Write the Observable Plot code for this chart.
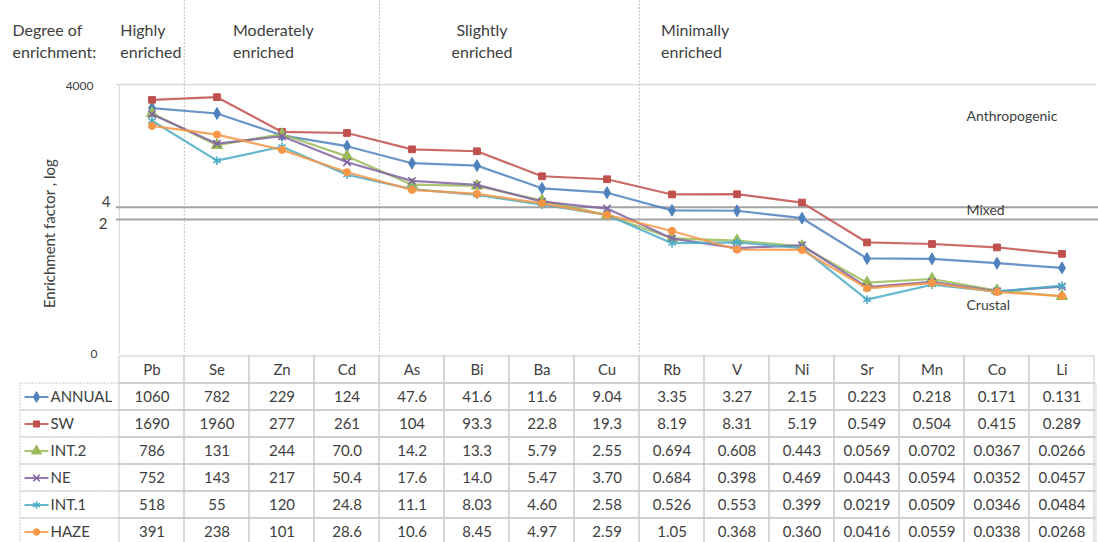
<!DOCTYPE html>
<html><head><meta charset="utf-8">
<script src="https://cdn.jsdelivr.net/npm/d3@7"></script>
<script src="https://cdn.jsdelivr.net/npm/@observablehq/plot@0.6"></script>
<style>
html,body{margin:0;padding:0;background:#fff;}
#chart{width:1098px;height:542px;overflow:hidden;font-family:Lato,sans-serif;}
#chart svg{display:block;}
</style></head><body><div id="chart"></div>
<script>
// ---------- data ----------
const elements = ["Pb","Se","Zn","Cd","As","Bi","Ba","Cu","Rb","V","Ni","Sr","Mn","Co","Li"];
const seriesNames = ["ANNUAL","SW","INT.2","NE","INT.1","HAZE"];
const annual = ["1060","782","229","124","47.6","41.6","11.6","9.04","3.35","3.27","2.15","0.223","0.218","0.171","0.131"];
const sw     = ["1690","1960","277","261","104","93.3","22.8","19.3","8.19","8.31","5.19","0.549","0.504","0.415","0.289"];
const int2   = ["786","131","244","70.0","14.2","13.3","5.79","2.55","0.694","0.608","0.443","0.0569","0.0702","0.0367","0.0266"];
const ne     = ["752","143","217","50.4","17.6","14.0","5.47","3.70","0.684","0.398","0.469","0.0443","0.0594","0.0352","0.0457"];
const int1   = ["518","55","120","24.8","11.1","8.03","4.60","2.58","0.526","0.553","0.399","0.0219","0.0509","0.0346","0.0484"];
const haze   = ["391","238","101","28.6","10.6","8.45","4.97","2.59","1.05","0.368","0.360","0.0416","0.0559","0.0338","0.0268"];
const seriesValues = [annual, sw, int2, ne, int1, haze];

const yTickValues = [4000, 4, 2, 0.001];
const yTickLabels = ["4000", "4", "2", "0"];
const yLabel = "Enrichment factor , log";
const yLabelAt = 0.9;
const mixedBounds = [4, 2];
const zoneLabels = ["Anthropogenic", "Mixed", "Crustal"];
const zoneLabelValues = [660, 3.3, 0.0154];
const degreeTitle = "Degree of\nenrichment:";
const degreeLabels = ["Highly\nenriched", "Moderately\nenriched", "Slightly\nenriched", "Minimally\nenriched"];
const degreeStart = ["Pb", "Se", "Bi", "Rb"];
const degreeBreaks = ["Se", "As", "Rb"];

// ---------- styles ----------
const seriesColors = ["#4F81BD","#C0504D","#9BBB59","#8064A2","#4BACC6","#F79646"];
const seriesSymbols = ["diamond","square","triangle","times","asterisk","circle"];
const symbolFilled = [true, true, true, false, false, true];
const symbolR = [3.6, 3.8, 4.2, 3.4, 4, 3.6];
const textColor = "#404040";
const W = 1098, chartH = 355, mLeft = 116, mRight = 2, mTop = 84;
const bw = (W - mRight - mLeft) / elements.length;
const degreeDx = [-bw/2 + 1, 16, 5, -11];
const degreeAnchor = ["start", "start", "middle", "start"];
const yTickDx = [-23, -6, -9, -19];
const yTickDy = [2, -5, 5, 0];
const yTickSize = [12, 15, 15, 12];

const long = seriesNames.flatMap((s, i) => elements.map((e, j) => ({
  series: s, element: e, text: seriesValues[i][j], value: +seriesValues[i][j]
})));

const seriesMarks = seriesNames.flatMap((s, i) => {
  const d = long.filter(r => r.series === s);
  return [
    Plot.line(d, {x: "element", y: "value", stroke: seriesColors[i], strokeWidth: 2.2, strokeOpacity: 0.85}),
    Plot.dot(d, {x: "element", y: "value", symbol: seriesSymbols[i], r: symbolR[i],
      fill: symbolFilled[i] ? seriesColors[i] : "none", stroke: seriesColors[i],
      strokeWidth: symbolFilled[i] ? 1 : 1.6})
  ];
});

const chart = Plot.plot({
  width: W, height: chartH,
  marginLeft: mLeft, marginRight: mRight, marginTop: mTop, marginBottom: 1,
  style: {fontFamily: "Lato, sans-serif", fontSize: "15px", color: textColor, background: "white", overflow: "visible"},
  x: {type: "band", domain: elements, padding: 0, axis: null},
  y: {type: "log", domain: [0.001, 4000], axis: null},
  marks: [
    Plot.ruleY([yTickValues[0]], {stroke: "#dadada", strokeWidth: 1.6}),
    Plot.ruleX([elements[0]], {dx: -bw/2, stroke: "#d4d4d4"}),
    Plot.ruleX(degreeBreaks, {dx: -bw/2, insetTop: -mTop, stroke: "#bdbdbd", strokeDasharray: "2,1.5"}),
    Plot.ruleY(mixedBounds, {stroke: "#a3a3a3", strokeWidth: 2, insetRight: -2}),
    ...seriesMarks,
    ...yTickValues.map((v, i) => Plot.text([yTickLabels[i]], {
      y: [v], text: d => d, frameAnchor: "left", dx: yTickDx[i], dy: yTickDy[i],
      textAnchor: "end", fontSize: yTickSize[i]})),
    Plot.text([yLabel], {y: [yLabelAt], text: d => d, frameAnchor: "left", dx: -66,
      rotate: -90, textAnchor: "middle", fontSize: 15}),
    Plot.text([degreeTitle], {frameAnchor: "top-left", dx: 12 - mLeft, dy: -64,
      lineAnchor: "top", lineHeight: 1.375, textAnchor: "start", fontSize: 16}),
    ...degreeLabels.map((t, i) => Plot.text([t], {
      x: [degreeStart[i]], text: d => d, frameAnchor: "top", dx: degreeDx[i], dy: -64,
      lineAnchor: "top", lineHeight: 1.375, textAnchor: degreeAnchor[i], fontSize: 16})),
    Plot.text(zoneLabels, {y: zoneLabelValues, text: d => d, frameAnchor: "right",
      dx: -130, textAnchor: "start", fontSize: 14})
  ]
});

// ---------- data table ----------
const rows = ["", ...seriesNames];
const headerCells = elements.map(e => ({row: "", element: e, text: e}));
const bodyCells = long.map(d => ({row: d.series, element: d.element, text: d.text}));
const allCells = [...headerCells, ...bodyCells];
const legendLine = {draw(ctx) { ctx.moveTo(-12, 0); ctx.lineTo(12, 0); }};
const gridColor = "#c9c9c9";

const table = Plot.plot({
  width: W, height: 542 - chartH,
  marginLeft: 20, marginRight: mRight, marginTop: 0, marginBottom: 0,
  style: {fontFamily: "Lato, sans-serif", fontSize: "15px", color: textColor, background: "white"},
  x: {type: "band", domain: elements, range: [mLeft, W - mRight], padding: 0, axis: null},
  y: {type: "band", domain: rows, range: [0, 191], padding: 0, axis: null},
  color: {domain: seriesNames, range: seriesColors},
  marks: [
    Plot.cell(seriesNames, {y: d => d, fill: "none", stroke: gridColor, strokeDasharray: "2,1"}),
    Plot.cell(allCells, {x: "element", y: "row", fill: "none", stroke: gridColor}),
    Plot.text(allCells, {x: "element", y: "row", text: "text", fontSize: 15}),
    Plot.dot(seriesNames, {y: d => d, frameAnchor: "left", dx: 16, symbol: legendLine,
      fill: "none", stroke: d => d, strokeWidth: 2, strokeOpacity: 0.85}),
    ...seriesNames.map((s, i) => Plot.dot([s], {y: d => d, frameAnchor: "left", dx: 16,
      symbol: seriesSymbols[i], r: symbolR[i] * 0.9,
      fill: symbolFilled[i] ? seriesColors[i] : "none", stroke: seriesColors[i],
      strokeWidth: symbolFilled[i] ? 1 : 1.5})),
    Plot.text(seriesNames, {y: d => d, text: d => d, frameAnchor: "left", dx: 30,
      textAnchor: "start", fontSize: 15})
  ]
});

const host = document.getElementById("chart");
host.appendChild(chart);
host.appendChild(table);
</script>
</body></html>
